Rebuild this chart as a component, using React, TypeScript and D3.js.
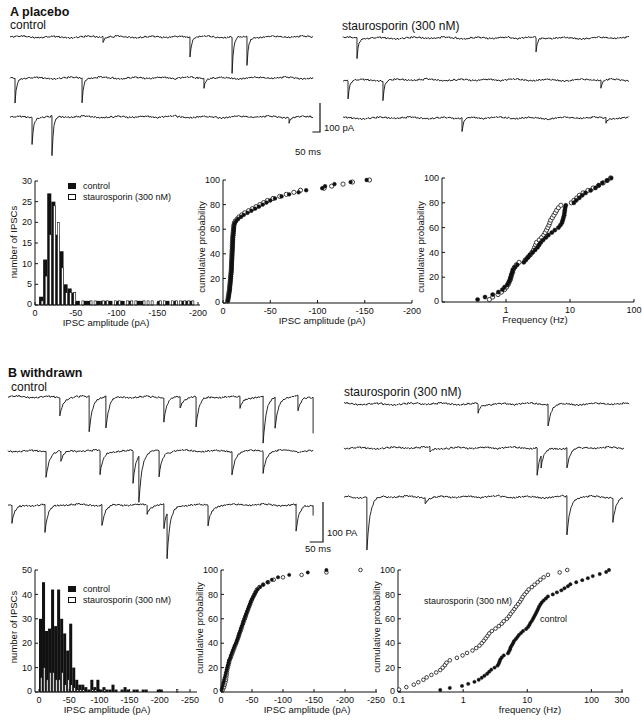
import React from "react";
import * as d3 from "d3";

const FONT = "'Liberation Sans', Arial, Helvetica, sans-serif";

// ---------------- DATA ----------------
// baseline noise of the recordings (pA): fast and slow components, read as repeating samples
const fastNoisePA = [1.5, -0.8, 2.2, 0.4, -1.9, 1.1, -0.3, 2.6, -1.2, 0.7, -2.4, 1.8, 0.2, -1.5, 2.9, -0.6,
  1.3, -2.1, 0.9, -0.2, 2.0, -1.7, 0.5, 1.6, -2.8, 0.1, 1.9, -1.0, 2.4, -0.4, -1.6, 1.2,
  0.6, -2.2, 1.7, -0.9, 2.3, 0.3, -1.4, 1.0, -2.6, 0.8, 1.4, -0.5, 2.7, -1.8, 0.0, 1.5,
  -1.1, 2.1, -2.3, 0.4, 1.2, -0.7, -1.9, 2.5, 0.9, -1.3, 1.6, -0.1, -2.0, 2.2, 0.6, -1.5];
const slowNoisePA = [0.5, 1.8, 2.6, 1.2, -0.8, -2.1, -1.4, 0.3, 1.5, 0.9, -0.6, -2.4, -2.9, -1.1, 0.8, 2.2, 1.6,
  0.2, -1.0, -0.4, 1.1, 2.8, 2.0, -0.2, -1.8, -2.6, -1.2, 0.6, 1.9, 1.0, -0.9, -1.6, 0.4, 2.1, 1.3, -0.5, -1.9];

// IPSC events: t = time (ms), a = amplitude (pA, inward)
const placeboControlEvents = [
  [{ t: 612, a: 17 }, { t: 1184, a: 69 }, { t: 1461, a: 124 }, { t: 1559, a: 97 }],
  [{ t: 33, a: 86 }, { t: 474, a: 86 }, { t: 1276, a: 34 }],
  [{ t: 145, a: 93 }, { t: 276, a: 138 }, { t: 1836, a: 17 }],
];
const placeboControlDurations = [2000, 2000, 2000];
const placeboStauroEvents = [
  [{ t: 92, a: 69 }, { t: 1270, a: 48 }],
  [{ t: 33, a: 62 }, { t: 263, a: 66 }, { t: 1697, a: 28 }],
  [{ t: 783, a: 48 }, { t: 1730, a: 17 }],
];
const placeboStauroDurations = [1888, 1888, 1888];

const withdrawnControlEvents = [
  [{ t: 195, a: 45 }, { t: 305, a: 90 }, { t: 368, a: 80 }, { t: 586, a: 60 }, { t: 647, a: 28 },
   { t: 707, a: 75 }, { t: 872, a: 28 }, { t: 959, a: 118 }, { t: 1004, a: 78 }, { t: 1090, a: 38 }, { t: 1147, a: 90 }],
  [{ t: 143, a: 65 }, { t: 199, a: 25 }, { t: 346, a: 60 }, { t: 470, a: 80 }, { t: 492, a: 115 },
   { t: 568, a: 65 }, { t: 842, a: 58 }, { t: 959, a: 55 }],
  [{ t: 15, a: 45 }, { t: 139, a: 70 }, { t: 353, a: 52 }, { t: 523, a: 22 }, { t: 586, a: 62 },
   { t: 598, a: 112 }, { t: 752, a: 50 }, { t: 1083, a: 68 }, { t: 1147, a: 25 }],
];
const withdrawnControlDurations = [1150, 1150, 1150];
const withdrawnStauroEvents = [
  [{ t: 504, a: 22 }, { t: 767, a: 55 }],
  [{ t: 323, a: 10 }, { t: 726, a: 68 }, { t: 741, a: 30 }, { t: 838, a: 50 }],
  [{ t: 86, a: 132 }, { t: 305, a: 15 }, { t: 838, a: 98 }, { t: 1011, a: 60 }],
];
const withdrawnStauroDurations = [1075, 1056, 1049];

// amplitude histograms: counts per 5 pA bin (0 .. -200 / -250 pA)
const histBinWidth = 5;
const histAControl = [0, 2, 11, 27, 25, 17, 13, 5, 4, 3, 1, 0, 1, 1, 0, 1, 1, 1, 1, 0, 1, 1, 0, 1, 0, 1, 1, 0, 0, 0, 1, 0, 1, 0, 1, 0, 1, 1, 1, 0];
const histAStauro = [0, 1, 7, 17, 24, 20, 9, 3, 3, 3, 0, 1, 0, 1, 1, 0, 1, 1, 0, 1, 1, 0, 1, 1, 1, 0, 1, 1, 1, 0, 1, 1, 0, 1, 1, 1, 1, 1, 1, 0];
const histBControl = [30, 45, 25, 26, 42, 27, 42, 30, 24, 17, 28, 10, 5, 3, 3, 2, 1, 5, 2, 5,
  1, 2, 1, 1, 3, 1, 0, 1, 2, 1, 0, 1, 1, 0, 1, 1, 0, 0, 0, 1, 1, 0, 0, 0, 0, 0, 0, 0, 0, 0];
const histBStauro = [6, 10, 5, 8, 8, 5, 5, 8, 3, 5, 3, 2, 1, 1, 1, 0, 0, 1, 1, 0,
  0, 1, 0, 0, 0, 0, 0, 0, 0, 0, 0, 0, 0, 0, 0, 0, 0, 0, 0, 0, 0, 0, 0, 0, 0, 1, 0, 0, 0, 0];

// sorted IPSC amplitudes (pA) for the cumulative plots
const ampAControl = [-5, -5.5, -6, -6.3, -6.6, -7, -7.2, -7.4, -7.6, -7.8, -8, -8.2, -8.4, -8.6, -8.8, -9, -9.1, -9.2, -9.3, -9.4,
  -9.5, -9.6, -9.7, -9.8, -9.9, -10, -10.1, -10.2, -10.3, -10.4, -10.5, -10.6, -10.8, -11, -11.2, -11.4, -11.6, -11.8, -12.5,
  -14, -16, -19, -22, -26, -30, -34, -38, -42, -46, -50, -55, -62, -70, -80, -88, -105, -108, -118, -135, -152];
const ampAStauro = [-5, -5.3, -5.6, -6, -6.3, -6.6, -6.9, -7.1, -7.3, -7.5, -7.7, -7.9, -8.1, -8.3, -8.5, -8.7, -8.8, -8.9, -9, -9.1,
  -9.2, -9.3, -9.4, -9.5, -9.6, -9.7, -9.8, -9.9, -10, -10.1, -10.2, -10.3, -10.5, -10.7, -10.9, -11.1, -11.3, -11.5, -12,
  -13, -15, -17, -20, -23, -27, -31, -35, -39, -43, -47, -53, -60, -67, -75, -82, -107, -115, -127, -137, -155];
const ampBControl = [-1, -2, -3, -4, -5, -6, -7, -8, -9, -10, -11, -12, -13, -15, -16, -17.5, -19, -20.5, -22, -24,
  -25.5, -27, -28, -29.5, -31, -32, -33.5, -35, -36, -37.5, -39, -40.5, -42, -43.5, -45, -46.5, -48, -50, -52, -54,
  -56, -59, -63, -68, -75, -82, -92, -110, -140, -170];
const ampBStauro = [-3, -5, -6, -7, -8, -8.5, -9, -9.5, -10, -11, -12, -13, -14, -15.5, -17, -18.5, -20, -21.5, -23, -24.5,
  -26, -27.5, -29, -30, -31.5, -33, -34, -35.5, -37, -38.5, -40, -41, -42.5, -44, -45.5, -47, -48.5, -50, -52, -54,
  -56, -58, -62, -68, -76, -85, -100, -130, -170, -225];

// sorted instantaneous frequencies (Hz) for the cumulative plots
const freqAControl = [0.36, 0.47, 0.62, 0.76, 0.88, 0.95, 1.05, 1.1, 1.15, 1.18, 1.21, 1.25, 1.28, 1.38, 1.5, 1.9, 2.05, 2.2, 2.35, 2.6,
  2.85, 3.1, 3.3, 3.5, 3.8, 4.2, 4.6, 5.2, 5.8, 6.6, 7.1, 7.5, 7.7, 7.9, 8.1, 8.2, 8.3, 8.4, 8.6, 11.5,
  12.5, 14, 15.5, 17.5, 21, 25, 28, 32, 38, 44];
const freqAStauro = [0.55, 0.62, 0.75, 0.85, 0.95, 1.02, 1.08, 1.12, 1.17, 1.2, 1.23, 1.27, 1.3, 1.35, 1.45, 1.6, 2.0, 2.2, 2.4, 2.55,
  2.7, 2.8, 2.9, 3.0, 3.3, 3.6, 3.9, 4.1, 4.3, 4.5, 4.7, 4.85, 5.0, 5.3, 5.6, 5.9, 6.2, 6.6, 7.2, 10.5,
  11.5, 12.8, 14, 16, 19, 23, 28, 33, 38, 43];
const freqBControl = [0.44, 0.62, 0.96, 1.2, 1.5, 1.75, 1.95, 2.15, 2.37, 2.55, 2.75, 3.1, 3.45, 3.6, 3.7, 3.8, 4.0, 4.3, 5.0, 5.2,
  5.4, 5.5, 5.75, 6.0, 6.2, 6.6, 7.0, 7.4, 8.0, 8.6, 9.6, 10.3, 10.8, 11.2, 11.8, 12.3, 12.8, 13.3, 13.8, 14.3,
  14.8, 15.3, 16, 16.8, 18, 19.5, 21, 25, 29, 34, 38, 43, 47, 58, 72, 88, 105, 135, 170, 188];
const freqBStauro = [0.1, 0.13, 0.17, 0.2, 0.24, 0.27, 0.32, 0.38, 0.44, 0.48, 0.52, 0.55, 0.62, 0.8, 0.98, 1.15, 1.4, 1.6, 1.8, 1.95,
  2.1, 2.25, 2.4, 2.55, 2.8, 3.2, 3.6, 4.0, 4.3, 4.8, 5.2, 5.5, 5.9, 6.3, 6.7, 7.2, 7.7, 8.1, 8.5, 9.1,
  9.8, 10.5, 11.8, 13, 14.5, 16, 18, 21, 32, 42];

// tick values
const histATicksY = [0, 5, 10, 15, 20, 25, 30];
const histBTicksY = [0, 10, 20, 30, 40, 50];
const ampATicksX = [0, -50, -100, -150, -200];
const ampBTicksX = [0, -50, -100, -150, -200, -250];
const cumTicksY = [0, 20, 40, 60, 80, 100];
const freqATicksX = [1, 10, 100];
const freqBTicksX = [0.1, 1, 10, 100, 300];

// ---------------- COMPONENTS ----------------
type Ev = { t: number; a: number };

function Trace({ events, dur, xs, baseline, pa, tau, noiseOffset, noiseGain }: any) {
  const msPerPx = (xs.domain()[1] - xs.domain()[0]) / (xs.range()[1] - xs.range()[0]);
  const times: number[] = d3.range(0, dur, msPerPx);
  (events as Ev[]).forEach((e) => { times.push(e.t - 0.01, e.t); });
  times.sort((a, b) => a - b);
  const pts: [number, number][] = times.map((t) => {
    let v = 0;
    for (const e of events as Ev[]) if (t >= e.t) v += e.a * Math.exp(-(t - e.t) / tau);
    const k = Math.floor(t / msPerPx) + noiseOffset;
    const n = fastNoisePA[k % fastNoisePA.length] + slowNoisePA[Math.floor(k / 5) % slowNoisePA.length];
    return [xs(t), baseline + pa(v - n * noiseGain)];
  });
  return <path d={d3.line()(pts) || ""} fill="none" stroke="#111" strokeWidth={0.9} strokeLinejoin="round" />;
}

function TraceGroup({ eventsList, durations, x0, pxPerMs, baselines, pxPer100, tau, offset, noiseGain }: any) {
  const pa = d3.scaleLinear().domain([0, 100]).range([0, pxPer100]);
  return (
    <g>
      {eventsList.map((ev: Ev[], i: number) => {
        const xs = d3.scaleLinear().domain([0, durations[i]]).range([x0, x0 + durations[i] * pxPerMs]);
        return <Trace key={i} events={ev} dur={durations[i]} xs={xs} baseline={baselines[i]} pa={pa} tau={tau}
          noiseOffset={offset + i * 17} noiseGain={noiseGain} />;
      })}
    </g>
  );
}

function Axes({ xs, ys, xTicks, yTicks, xFmt, axisLeft, axisRight, xTitle, xTitleX, yTitle, yTitleY }: any) {
  const bottom = ys(0);
  const top = ys(yTicks[yTicks.length - 1]);
  return (
    <g fontFamily={FONT} fill="#111">
      <line x1={axisLeft} x2={axisLeft} y1={bottom} y2={top} stroke="#111" strokeWidth={1} />
      <line x1={axisLeft} x2={axisRight} y1={bottom} y2={bottom} stroke="#111" strokeWidth={1} />
      {yTicks.map((v: number) => (
        <g key={"y" + v}>
          <line x1={axisLeft} x2={axisLeft + 3} y1={ys(v)} y2={ys(v)} stroke="#111" strokeWidth={1} />
          <text x={axisLeft - 3} y={ys(v) - (v === 0 ? 1 : 0)} dy="0.35em" textAnchor="end" fontSize={9}>{v}</text>
        </g>
      ))}
      {xTicks.map((v: number) => (
        <g key={"x" + v}>
          <line x1={xs(v)} x2={xs(v)} y1={bottom} y2={bottom - 3} stroke="#111" strokeWidth={1} />
          <text x={xs(v)} y={bottom + 10.5} textAnchor="middle" fontSize={9}>{xFmt(v)}</text>
        </g>
      ))}
      <text x={xTitleX} y={bottom + 21} textAnchor="middle" fontSize={9.5}>{xTitle}</text>
      <text transform={`translate(${axisLeft - 21},${yTitleY}) rotate(-90)`} dy="0.35em" textAnchor="middle" fontSize={9.5}>{yTitle}</text>
    </g>
  );
}

function Histogram({ control, stauro, xs, ys }: any) {
  const w = histBinWidth;
  return (
    <g>
      {control.map((v: number, i: number) => v > 0 && (
        <rect key={"c" + i} x={xs(-i * w)} width={xs(-(i + 1) * w) - xs(-i * w)} y={ys(v)} height={ys(0) - ys(v)} fill="#111" />
      ))}
      {stauro.map((v: number, i: number) => v > 0 && (
        <rect key={"s" + i} x={xs(-(i + 0.5) * w)} width={xs(-(i + 1) * w) - xs(-(i + 0.5) * w)} y={ys(v)} height={ys(0) - ys(v)}
          fill="#fff" stroke="#111" strokeWidth={0.6} />
      ))}
    </g>
  );
}

function Legend({ x, y }: any) {
  return (
    <g fontFamily={FONT} fontSize={9} fill="#111">
      <rect x={x} y={y} width={8} height={6} fill="#111" />
      <text x={x + 15} y={y + 6}>control</text>
      <rect x={x + 0.5} y={y + 11.5} width={7} height={5} fill="#fff" stroke="#111" strokeWidth={1} />
      <text x={x + 15} y={y + 17}>staurosporin (300 nM)</text>
    </g>
  );
}

function Ecdf({ values, xs, ys, r, open }: any) {
  const n = values.length;
  return (
    <g>
      {values.map((v: number, i: number) => (
        <circle key={i} cx={xs(v)} cy={ys(((i + 1) / n) * 100)} r={r}
          fill={open ? "#fff" : "#111"} stroke="#111" strokeWidth={open ? 0.8 : 0.4} />
      ))}
    </g>
  );
}

const fmtAmp = (v: number) => (v === 0 ? "0" : String(v));
const fmtFreq = (v: number) => String(v);

export default function App() {
  // ----- panel A scales -----
  const hAx = d3.scaleLinear().domain([0, -200]).range([35, 198]);
  const hAy = d3.scaleLinear().domain([0, 30]).range([305, 181]);
  const cAx = d3.scaleLinear().domain([0, -200]).range([223, 412]);
  const cAy = d3.scaleLinear().domain([0, 100]).range([303, 180]);
  const fAx = d3.scaleLog().domain([0.1, 100]).range([442, 634]);
  const fAy = d3.scaleLinear().domain([0, 100]).range([302, 178]);
  // ----- panel B scales -----
  const hBx = d3.scaleLinear().domain([0, -250]).range([39, 190]);
  const hBy = d3.scaleLinear().domain([0, 50]).range([692, 570]);
  const cBx = d3.scaleLinear().domain([0, -250]).range([221, 376]);
  const cBy = d3.scaleLinear().domain([0, 100]).range([692, 570]);
  const fBx = d3.scaleLog().domain([0.1, 300]).range([399, 622]);
  const fBy = d3.scaleLinear().domain([0, 100]).range([692, 570]);

  const pxPerMsA = 0.152, pxPerMsB = 0.266;

  return (
    <svg width={642} height={720} viewBox="0 0 642 720"
      style={{ position: "absolute", left: 0, top: 0, background: "#fff" }}>
      <rect x={0} y={0} width={642} height={720} fill="#fff" />
      {/* ---------- A ---------- */}
      <g fontFamily={FONT} fill="#111">
        <text x={10} y={16} fontSize={12.5} fontWeight="bold">A placebo</text>
        <text x={10} y={29} fontSize={12}>control</text>
        <text x={342} y={30} fontSize={12}>staurosporin (300 nM)</text>
      </g>
      <TraceGroup eventsList={placeboControlEvents} durations={placeboControlDurations} x0={10} pxPerMs={pxPerMsA}
        baselines={[37, 78, 117]} pxPer100={29} tau={10} offset={0} noiseGain={1.2} />
      <TraceGroup eventsList={placeboStauroEvents} durations={placeboStauroDurations} x0={343} pxPerMs={pxPerMsA}
        baselines={[38, 80, 118]} pxPer100={29} tau={10} offset={7} noiseGain={1.2} />
      {/* scale bar A */}
      <g stroke="#111" strokeWidth={1.2} fill="none">
        <path d={`M${320 - 50 * pxPerMsA},132 H320 V103`} />
      </g>
      <g fontFamily={FONT} fontSize={9.5} fill="#111">
        <text x={324} y={131}>100 pA</text>
        <text x={308} y={155} textAnchor="middle">50 ms</text>
      </g>

      <Histogram control={histAControl} stauro={histAStauro} xs={hAx} ys={hAy} />
      <Axes xs={hAx} ys={hAy} xTicks={ampATicksX} yTicks={histATicksY} xFmt={fmtAmp} axisLeft={35} axisRight={200}
        xTitle="IPSC amplitude (pA)" xTitleX={106} yTitle="number of IPSCs" yTitleY={242} />
      <Legend x={68} y={183} />

      <Axes xs={cAx} ys={cAy} xTicks={ampATicksX} yTicks={cumTicksY} xFmt={fmtAmp} axisLeft={223} axisRight={412}
        xTitle="IPSC amplitude (pA)" xTitleX={322} yTitle="cumulative probability" yTitleY={247} />
      <Ecdf values={ampAStauro} xs={cAx} ys={cAy} r={2.1} open />
      <Ecdf values={ampAControl} xs={cAx} ys={cAy} r={1.9} />

      <Axes xs={fAx} ys={fAy} xTicks={freqATicksX} yTicks={cumTicksY} xFmt={fmtFreq} axisLeft={442} axisRight={634}
        xTitle="Frequency (Hz)" xTitleX={535} yTitle="cumulative probability" yTitleY={247} />
      <Ecdf values={freqAStauro} xs={fAx} ys={fAy} r={2.1} open />
      <Ecdf values={freqAControl} xs={fAx} ys={fAy} r={2.1} />

      {/* ---------- B ---------- */}
      <g fontFamily={FONT} fill="#111">
        <text x={8} y={377} fontSize={12.5} fontWeight="bold">B withdrawn</text>
        <text x={11} y={391} fontSize={12}>control</text>
        <text x={344} y={396} fontSize={12}>staurosporin (300 nM)</text>
      </g>
      <TraceGroup eventsList={withdrawnControlEvents} durations={withdrawnControlDurations} x0={8} pxPerMs={pxPerMsB}
        baselines={[397, 451, 505]} pxPer100={40} tau={12} offset={3} noiseGain={0.9} />
      <TraceGroup eventsList={withdrawnStauroEvents} durations={withdrawnStauroDurations} x0={344} pxPerMs={pxPerMsB}
        baselines={[404, 448, 497]} pxPer100={40} tau={12} offset={11} noiseGain={0.9} />
      <g stroke="#111" strokeWidth={1.2} fill="none">
        <path d={`M${323 - 50 * pxPerMsB},542 H323 V502`} />
      </g>
      <g fontFamily={FONT} fontSize={9.5} fill="#111">
        <text x={327} y={536}>100 PA</text>
        <text x={318} y={552} textAnchor="middle">50 ms</text>
      </g>

      <Histogram control={histBControl} stauro={histBStauro} xs={hBx} ys={hBy} />
      <Axes xs={hBx} ys={hBy} xTicks={ampBTicksX} yTicks={histBTicksY} xFmt={fmtAmp} axisLeft={35} axisRight={197}
        xTitle="IPSC amplitude (pA)" xTitleX={107} yTitle="number of IPSCs" yTitleY={627} />
      <Legend x={68} y={586} />

      <Axes xs={cBx} ys={cBy} xTicks={ampBTicksX} yTicks={cumTicksY} xFmt={fmtAmp} axisLeft={221} axisRight={377}
        xTitle="IPSC amplitude (pA)" xTitleX={307} yTitle="cumulative probability" yTitleY={628} />
      <Ecdf values={ampBStauro} xs={cBx} ys={cBy} r={1.8} open />
      <Ecdf values={ampBControl} xs={cBx} ys={cBy} r={1.7} />

      <Axes xs={fBx} ys={fBy} xTicks={freqBTicksX} yTicks={cumTicksY} xFmt={fmtFreq} axisLeft={398} axisRight={623}
        xTitle="frequency (Hz)" xTitleX={530} yTitle="cumulative probability" yTitleY={627} />
      <Ecdf values={freqBControl} xs={fBx} ys={fBy} r={1.7} />
      <Ecdf values={freqBStauro} xs={fBx} ys={fBy} r={1.8} open />
      <g fontFamily={FONT} fontSize={9} fill="#111">
        <text x={424} y={604}>staurosporin (300 nM)</text>
        <text x={540} y={622}>control</text>
      </g>
    </svg>
  );
}
